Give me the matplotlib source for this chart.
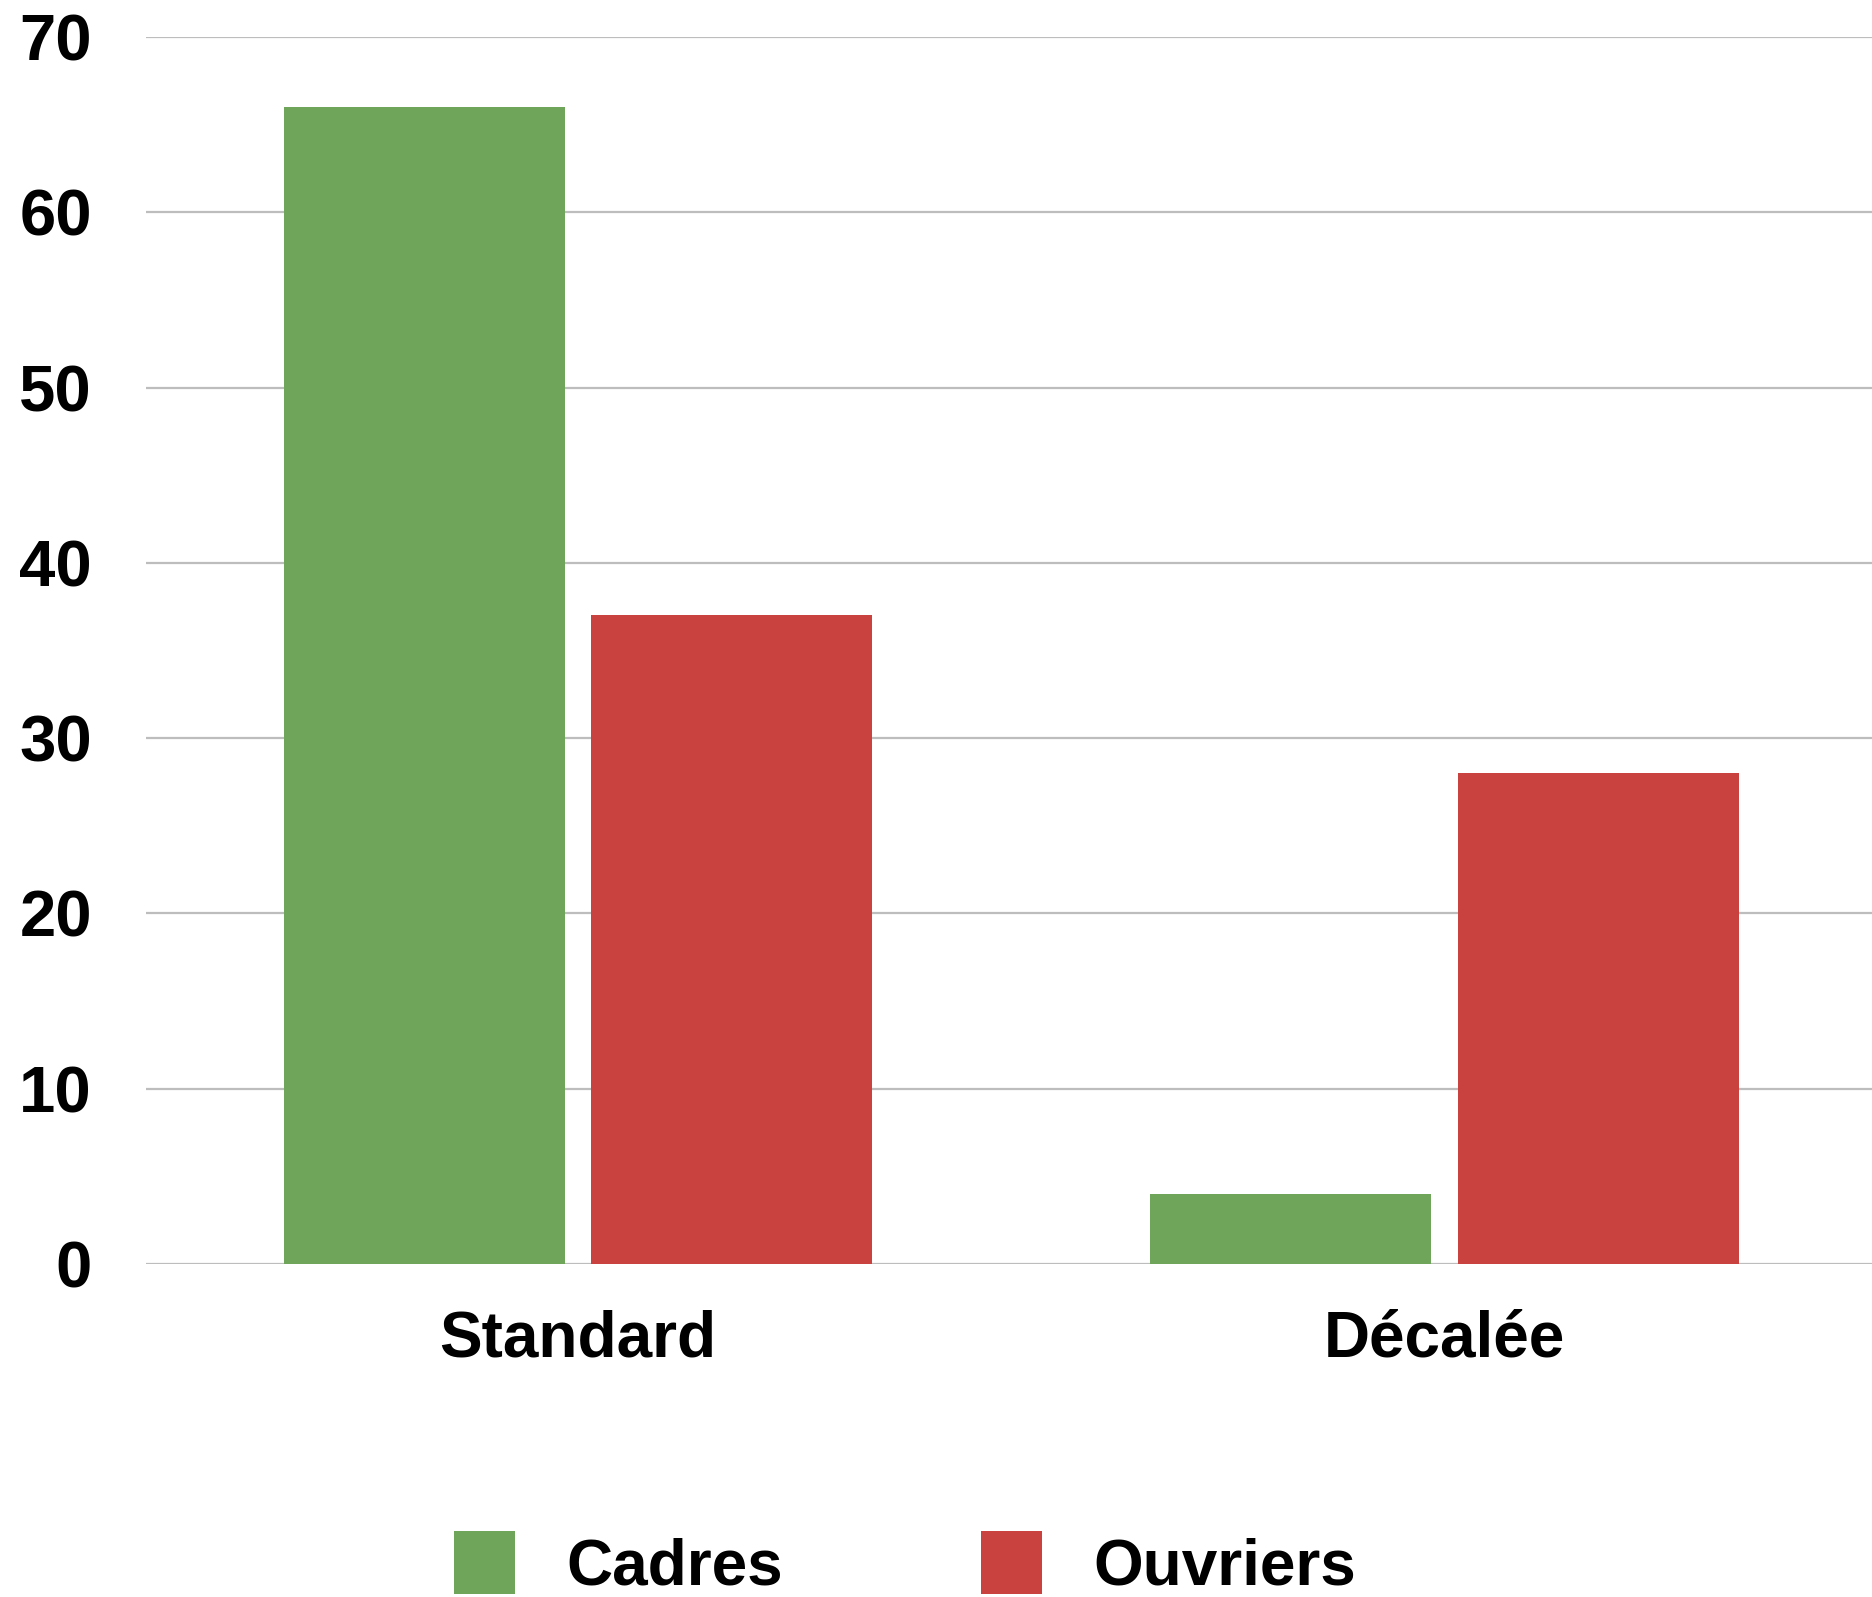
import matplotlib
matplotlib.use("Agg")
import matplotlib.pyplot as plt
import numpy as np
from matplotlib.patches import Patch

categories = ["Standard", "Décalée"]
series_names = ["Cadres", "Ouvriers"]
cadres = [66, 4]
ouvriers = [37, 28]
yticks = [0, 10, 20, 30, 40, 50, 60, 70]

colors = ["#6FA55A", "#CA4240"]

plt.rcParams['font.family'] = ['Liberation Sans', 'DejaVu Sans']
plt.rcParams['font.weight'] = 'bold'

fig = plt.figure(figsize=(18.72, 15.97), dpi=100)
ax = fig.add_axes([146/1872, 1 - 1264/1597, 1 - 146/1872, (1264-37)/1597])

x = np.arange(len(categories))
w = 0.3243
off = 0.1773
ax.bar(x - off, cadres, width=w, color=colors[0], zorder=3)
ax.bar(x + off, ouvriers, width=w, color=colors[1], zorder=3)

ax.set_xlim(-0.4985, 1.4932)
ax.set_ylim(0, 70)
ax.set_yticks(yticks)
ax.set_yticklabels([str(v) for v in yticks], fontsize=47, fontweight='bold')
ax.set_xticks(x)
ax.set_xticklabels(categories, fontsize=46, fontweight='bold')
ax.tick_params(axis='y', length=0, pad=39)
ax.tick_params(axis='x', length=0, pad=33)
ax.yaxis.grid(True, color="#BDBDBD", linewidth=1.6, zorder=0)
ax.set_axisbelow(True)
for s in ax.spines.values():
    s.set_visible(False)

handles = [Patch(facecolor=colors[0]), Patch(facecolor=colors[1])]
fig.legend(handles, series_names, loc='center', bbox_to_anchor=(905/1872, 1 - 1564/1597),
           ncol=2, frameon=False, handlelength=0.955, handleheight=1.15,
           handletextpad=0.8, columnspacing=3.1, prop={'weight': 'bold', 'size': 46})

fig.savefig("out.png", dpi=100)
